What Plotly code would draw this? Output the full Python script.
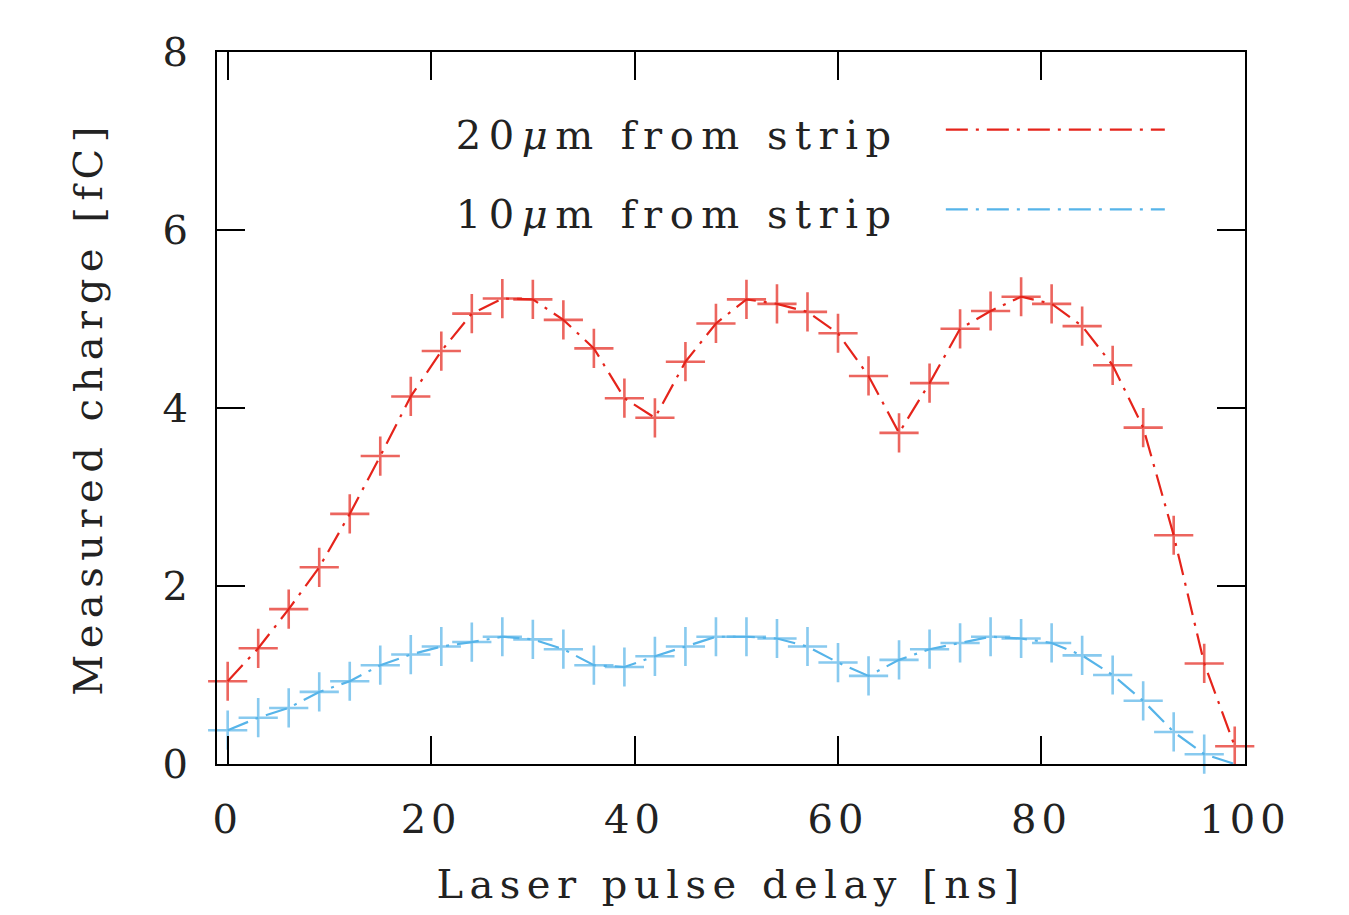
import plotly.graph_objects as go

delay_ns = [0, 3, 6, 9, 12, 15, 18, 21, 24, 27, 30, 33, 36, 39, 42, 45, 48, 51,
            54, 57, 60, 63, 66, 69, 72, 75, 78, 81, 84, 87, 90, 93, 96, 99]
charge_20um = [0.93, 1.30, 1.74, 2.21, 2.81, 3.46, 4.13, 4.64, 5.06, 5.23, 5.22, 4.99,
               4.67, 4.11, 3.89, 4.52, 4.95, 5.22, 5.17, 5.08, 4.84, 4.36, 3.72, 4.28,
               4.89, 5.09, 5.25, 5.17, 4.92, 4.48, 3.78, 2.57, 1.13, 0.20]
charge_10um = [0.38, 0.52, 0.63, 0.81, 0.93, 1.11, 1.23, 1.32, 1.37, 1.43, 1.40, 1.29,
               1.11, 1.09, 1.21, 1.32, 1.43, 1.43, 1.41, 1.32, 1.14, 0.99, 1.17, 1.29,
               1.36, 1.43, 1.41, 1.36, 1.22, 1.00, 0.71, 0.36, 0.11, 0.0]
series_names = ["20<i>μ</i>m from strip", "10<i>μ</i>m from strip"]
series_colors = ["#e5241b", "#56b4e9"]
x_ticks = [0, 20, 40, 60, 80, 100]
y_ticks = [0, 2, 4, 6, 8]

FONT = "DejaVu Serif"
FSIZE = 40
TXT = "#222"
DASH = "22px,8px,3px,8px"
MSIZE = 28

fig = go.Figure()
for yvals, name, col in zip([charge_20um, charge_10um], series_names, series_colors):
    # the last blue point sits on the axis and shows no marker in the original
    sizes = [MSIZE] * len(yvals)
    if yvals[-1] <= 0:
        sizes[-1] = 0
    fig.add_trace(go.Scatter(
        x=delay_ns, y=yvals, mode="lines+markers", name=name,
        line=dict(color=col, width=2.2, dash=DASH),
        marker=dict(symbol="cross-thin", size=sizes, line=dict(color=col, width=2.6)),
        cliponaxis=False, showlegend=False,
    ))

# manual legend (text left, line sample right) as in the original
legend_y = [0.884, 0.772]
for yp, name, col in zip(legend_y, series_names, series_colors):
    fig.add_annotation(xref="paper", yref="paper", x=0.285, y=yp,
                       xanchor="left", yanchor="middle", text=name, showarrow=False,
                       font=dict(family=FONT, size=FSIZE, color=TXT))
    fig.add_shape(type="line", xref="paper", yref="paper",
                  x0=0.709, x1=0.922, y0=yp + 0.007, y1=yp + 0.007,
                  line=dict(color=col, width=2.2, dash=DASH))

axis_common = dict(
    showline=True, linecolor="black", linewidth=2.2, mirror="allticks",
    ticks="inside", ticklen=28, tickwidth=2, tickcolor="black",
    showgrid=False, zeroline=False, automargin=False,
    tickfont=dict(family=FONT, size=FSIZE, color=TXT),
)
fig.update_xaxes(range=[-1.05, 100.01], tickvals=x_ticks,
                 title=dict(text="Laser pulse delay [ns]", font=dict(family=FONT, size=FSIZE, color=TXT), standoff=40),
                 ticklabelstandoff=19, **axis_common)
fig.update_yaxes(range=[0, 8], tickvals=y_ticks,
                 title=dict(text="Measured charge [fC]", font=dict(family=FONT, size=FSIZE, color=TXT), standoff=52),
                 ticklabelstandoff=14, **axis_common)

fig.update_layout(
    width=1333, height=899,
    margin=dict(l=209, r=96, t=44, b=143),
    paper_bgcolor="white", plot_bgcolor="white",
)

post = """
var gd = document.getElementById('{plot_id}');
gd.querySelectorAll('.xtick text, .ytick text').forEach(function(t){ t.style.letterSpacing = '5px'; });
gd.querySelectorAll('.xtitle, .ytitle').forEach(function(t){ t.style.letterSpacing = '6.5px'; });
gd.querySelectorAll('.annotation-text').forEach(function(t){ t.style.letterSpacing = '7.5px'; });
"""
fig.write_html("out.html", post_script=post)
